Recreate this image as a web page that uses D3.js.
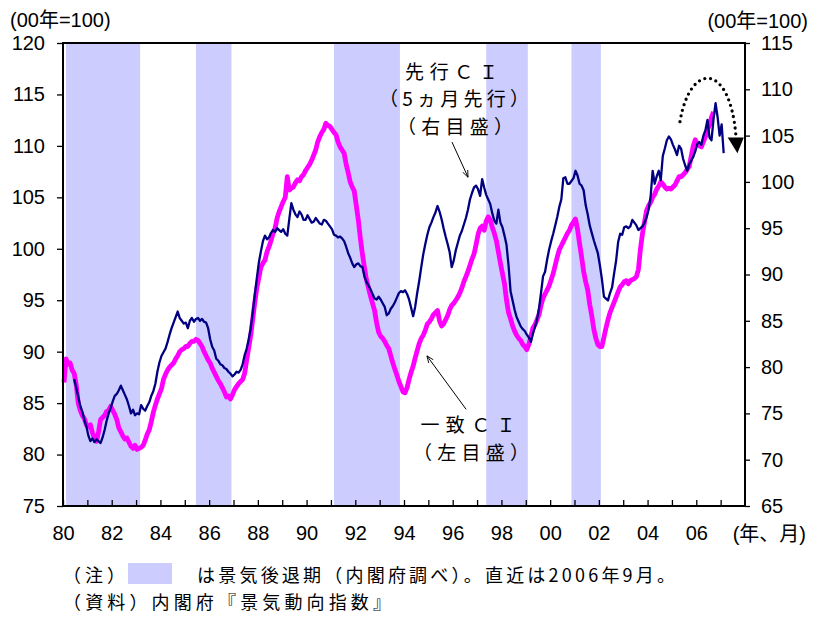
<!DOCTYPE html>
<html><head><meta charset="utf-8">
<script src="https://cdn.jsdelivr.net/npm/d3@7"></script>
<style>body{margin:0;background:#fff}svg{display:block}</style>
</head><body>
<svg id="chart" width="817" height="617"></svg>
<script>
// 一致CI (left axis), monthly 1980/1 – 2006/9
const coincident = [
 87.0,89.3,88.8,88.9,88.2,87.9,86.8,85.0,84.3,83.8,83.5,82.9,
 82.7,82.9,82.1,81.6,81.3,82.2,83.4,83.6,83.8,84.2,84.3,84.7,
 84.3,83.9,83.4,82.6,82.2,81.8,81.5,81.6,81.2,80.8,80.6,80.9,
 80.5,80.6,80.7,80.9,81.4,82.0,82.4,83.2,84.1,84.8,85.4,85.9,
 86.4,87.3,87.8,88.2,88.5,88.7,88.9,89.3,89.6,90.0,90.2,90.3,
 90.5,90.5,90.8,91.0,91.0,91.2,91.1,90.8,90.5,90.0,89.6,89.2,
 88.9,88.4,88.0,87.6,87.2,86.9,86.5,86.1,85.6,85.7,85.4,85.8,
 86.3,86.6,86.9,87.1,87.3,87.9,89.2,90.4,91.6,93.2,94.8,96.2,
 97.2,98.2,98.6,98.9,99.7,100.2,100.8,101.5,102.0,103.0,103.6,104.1,
 104.6,105.0,107.0,105.7,105.9,106.0,106.4,106.7,106.6,107.0,107.2,107.6,
 107.9,108.2,108.6,109.1,109.6,110.4,110.9,111.3,111.6,112.2,112.0,111.9,
 111.6,111.3,111.1,110.4,109.9,109.6,109.3,108.2,107.4,106.5,106.0,105.6,
 104.2,102.8,101.0,99.5,98.2,97.0,96.2,95.4,94.7,94.0,92.8,91.9,
 91.5,91.3,91.0,90.6,90.3,89.6,88.9,88.3,87.7,87.1,86.6,86.1,
 86.0,86.5,87.3,88.0,88.6,89.4,90.1,90.8,91.3,91.6,92.1,92.7,
 92.9,93.2,93.6,93.8,94.0,93.0,92.5,92.7,93.1,93.5,94.1,94.5,
 94.7,95.0,95.3,95.7,96.2,96.8,97.3,97.8,98.4,99.0,99.5,100.4,
 101.4,102.0,102.2,101.8,102.7,103.1,102.8,102.1,101.5,100.8,99.7,98.6,
 97.6,96.6,95.0,93.8,93.2,92.5,92.0,91.6,91.3,91.1,90.7,90.5,
 90.2,90.7,91.5,92.3,92.6,93.1,93.6,94.5,95.2,95.6,96.0,96.4,
 97.0,97.6,98.4,99.2,99.9,100.3,100.7,101.1,101.5,101.8,102.3,102.6,
 102.9,101.9,100.5,99.2,97.8,96.8,96.0,94.6,93.5,92.2,91.3,90.7,
 90.5,90.5,91.4,92.3,93.1,93.8,94.3,94.8,95.3,95.8,96.3,96.5,
 96.8,96.9,96.6,96.9,97.0,97.1,97.3,98.0,100.0,101.5,102.6,103.7,
 104.2,104.5,105.0,105.3,105.8,106.1,106.5,106.3,106.0,105.8,105.9,105.8,
 106.0,106.2,106.6,107.0,107.0,107.2,107.4,107.7,108.0,109.0,110.0,110.6,
 110.2,110.0,109.9,110.4,110.9,111.6,112.0,112.8,113.3
];
// 先行CI (right axis), monthly 1980/1 – 2006/9, drawn 5 months ahead
const leading = [
 78.7,77.8,76.8,75.8,75.2,74.3,73.6,72.6,72.0,72.3,71.9,72.2,
 72.0,71.8,72.4,73.2,74.2,75.0,75.6,76.3,76.9,77.1,77.5,78.0,
 77.5,77.0,76.5,75.8,75.0,75.4,74.8,75.0,74.9,75.9,75.5,75.3,
 75.8,76.2,76.9,77.4,78.2,79.5,80.5,81.2,81.6,82.0,82.7,83.5,
 84.2,84.8,85.4,86.0,85.3,85.0,84.7,84.8,84.2,85.0,85.3,84.9,
 85.2,85.3,85.0,85.2,84.9,84.8,84.2,83.0,82.2,81.8,80.9,80.7,
 80.3,80.2,79.9,79.8,79.5,79.3,79.0,79.2,79.5,79.4,79.7,80.3,
 81.3,82.0,83.0,84.2,85.9,87.8,89.6,91.3,92.5,93.6,94.2,93.8,
 94.0,94.5,94.8,94.6,95.0,94.8,94.6,94.9,94.4,94.2,96.0,97.7,
 97.0,96.5,96.2,96.8,96.5,95.9,95.9,96.4,96.0,95.6,95.7,96.1,
 95.8,95.5,95.4,95.9,95.8,95.5,95.2,94.9,94.3,94.2,94.0,94.1,
 93.9,93.6,93.0,92.3,91.8,91.2,90.8,91.1,91.2,90.9,90.8,89.8,
 89.2,88.8,88.4,87.9,87.4,87.3,87.6,87.3,86.9,86.5,85.6,85.8,
 86.3,86.6,87.0,87.5,88.0,88.2,88.1,88.3,87.9,87.3,86.4,85.5,
 86.5,88.0,89.3,90.8,92.2,93.3,94.3,95.1,95.6,96.2,96.7,97.4,
 96.8,96.0,95.0,94.1,93.3,92.4,90.8,91.5,92.6,93.4,94.2,94.7,
 95.4,96.1,97.0,98.1,98.8,99.4,99.6,99.2,98.5,100.3,99.4,98.6,
 98.1,97.6,96.6,95.8,95.5,97.0,95.6,95.1,94.2,93.2,91.0,88.2,
 87.2,86.2,85.4,84.9,84.4,84.1,83.9,83.5,83.2,82.7,83.6,84.3,
 85.1,86.3,88.0,89.8,90.3,91.6,92.7,93.6,94.4,95.3,96.2,97.3,
 98.1,100.4,100.5,99.8,99.8,100.1,100.4,101.2,100.7,99.8,99.6,99.1,
 97.5,96.5,95.3,94.5,93.7,93.0,92.3,91.0,89.5,87.6,87.4,87.2,
 88.0,88.6,90.1,91.5,93.5,94.4,94.3,95.1,95.2,95.0,95.2,95.9,
 95.6,95.3,94.8,95.0,95.2,95.6,96.2,97.0,98.4,101.2,99.8,100.6,
 101.2,100.2,102.8,103.6,104.5,104.9,104.6,104.0,103.5,102.9,103.9,103.6,
 102.5,101.8,101.2,101.9,102.3,102.7,103.3,104.1,104.3,104.0,105.0,105.6,
 106.7,104.8,104.5,106.8,108.5,107.0,105.0,106.2,103.1
];
const startYear = 1980;
const leadShiftMonths = 5;
// recession periods [peak year, peak month, trough year, trough month]
const recessions = [[1980,2,1983,2],[1985,6,1986,11],[1991,2,1993,10],[1997,5,1999,1],[2000,11,2002,1]];
const xTickYears = d3.range(1980, 2008);
const leftTicks = [75,80,85,90,95,100,105,110,115,120];
const rightTicks = [65,70,75,80,85,90,95,100,105,110,115];

const svg = d3.select('#chart');
const P = {l:63, r:745, t:43, b:506};
const x = d3.scaleLinear().domain([1980, 2008]).range([P.l, P.r]);
const yL = d3.scaleLinear().domain([75, 120]).range([P.b, P.t]);
const yR = d3.scaleLinear().domain([65, 115]).range([P.b, P.t]);
const monthPos = i => startYear + (i + 0.5) / 12;
const NUM = '"Liberation Sans", Arial, "Noto Sans CJK JP", sans-serif';
const JP = '"Noto Sans CJK JP", sans-serif';

// recession shading
svg.append('g').selectAll('rect').data(recessions).join('rect')
  .attr('x', d => x(d[0] + (d[1] - 0.5) / 12))
  .attr('width', d => x(d[2] + d[3] / 12) - x(d[0] + (d[1] - 0.5) / 12))
  .attr('y', P.t).attr('height', P.b - P.t)
  .attr('fill', '#CCCCFF');

// lines
const lineL = d3.line().x((d, i) => x(monthPos(i))).y(d => yL(d));
const lineR = d3.line().x((d, i) => x(monthPos(i + leadShiftMonths))).y(d => yR(d));
svg.append('path').datum(coincident).attr('d', lineL)
  .attr('fill', 'none').attr('stroke', '#FF00FF').attr('stroke-width', 4.8)
  .attr('stroke-linejoin', 'round');
svg.append('path').datum(leading).attr('d', lineR)
  .attr('fill', 'none').attr('stroke', '#000080').attr('stroke-width', 2.3)
  .attr('stroke-linejoin', 'round');

// axes
function styleAxis(g) {
  g.select('.domain').remove();
  g.selectAll('line').attr('stroke', '#000').attr('stroke-width', 1.3);
  g.selectAll('text').attr('font-family', NUM).attr('font-size', 20).attr('fill', '#000');
}
svg.append('g').attr('transform', `translate(${P.l},0)`)
  .call(d3.axisLeft(yL).tickValues(leftTicks).tickSize(6).tickPadding(12))
  .call(styleAxis);
svg.append('g').attr('transform', `translate(${P.r},0)`)
  .call(d3.axisRight(yR).tickValues(rightTicks).tickSize(5).tickPadding(11))
  .call(styleAxis);
svg.append('g').attr('transform', `translate(0,${P.b})`)
  .call(d3.axisBottom(x).tickValues(xTickYears).tickSizeInner(-6).tickSizeOuter(0).tickPadding(20)
    .tickFormat(d => d % 2 === 0 ? String(d % 100).padStart(2, '0') : ''))
  .call(styleAxis);

// frame
svg.append('rect').attr('x', P.l).attr('y', P.t).attr('width', P.r - P.l).attr('height', P.b - P.t)
  .attr('fill', 'none').attr('stroke', '#000').attr('stroke-width', 2);

// units
svg.append('text').attr('x', 10).attr('y', 27).attr('font-family', NUM).attr('font-size', 20).text('(00年=100)');
svg.append('text').attr('x', 808).attr('y', 28).attr('text-anchor', 'end').attr('font-family', NUM).attr('font-size', 20).text('(00年=100)');
svg.append('text').attr('x', 806).attr('y', 541).attr('text-anchor', 'end').attr('font-family', NUM).attr('font-size', 20).text('(年、月)');

// annotations
const ann = svg.append('g').attr('font-family', JP).attr('font-size', 19).attr('fill', '#000').attr('text-anchor', 'middle');
function annText(cx, y, len, s) {
  ann.append('text').attr('x', cx).attr('y', y).attr('textLength', len).attr('lengthAdjust', 'spacing').text(s);
}
annText(451.5, 79, 93, '先行ＣＩ');
annText(454, 106, 150, '（5ヵ月先行）');
annText(455, 134, 116, '（右目盛）');
annText(468, 432, 95, '一致ＣＩ');
annText(471, 460, 116, '（左目盛）');

const defs = svg.append('defs');
defs.append('marker').attr('id', 'ah').attr('viewBox', '0 0 10 10').attr('refX', 10).attr('refY', 5)
  .attr('markerWidth', 7).attr('markerHeight', 7).attr('orient', 'auto')
  .append('path').attr('d', 'M0,1 L10,5 L0,9').attr('fill', 'none').attr('stroke', '#000').attr('stroke-width', 1.2);

svg.append('line').attr('x1', x(1995.97)).attr('y1', yR(104.3)).attr('x2', x(1996.63)).attr('y2', yR(100.5))
  .attr('stroke', '#000').attr('stroke-width', 1).attr('marker-end', 'url(#ah)');
svg.append('line').attr('x1', x(1996.55)).attr('y1', yL(84.4)).attr('x2', x(1994.94)).attr('y2', yL(89.6))
  .attr('stroke', '#000').attr('stroke-width', 1).attr('marker-end', 'url(#ah)');

// dotted curved arrow (downturn)
const p0 = [x(2005.33), yR(106.5)], c1 = [x(2005.74), yR(113.0)], c2 = [x(2007.39), yR(113.0)], p3 = [x(2007.63), yR(104.9)];
svg.append('path').attr('d', `M${p0}C${c1} ${c2} ${p3}`)
  .attr('fill', 'none').attr('stroke', '#000').attr('stroke-width', 3.3)
  .attr('stroke-linecap', 'round').attr('stroke-dasharray', '0 5.8');
const tip = [x(2007.69), yR(103.1)];
svg.append('path')
  .attr('d', `M${x(2007.29)},${yR(104.8)}L${x(2007.95)},${yR(104.8)}L${tip}Z`).attr('fill', '#000');

// notes
const notes = svg.append('g').attr('font-family', JP).attr('font-size', 18).attr('fill', '#000');
notes.append('text').attr('x', 63).attr('y', 582).attr('textLength', 62).attr('lengthAdjust', 'spacing').text('（注）');
notes.append('rect').attr('x', 128).attr('y', 563).attr('width', 44).attr('height', 21).attr('fill', '#CCCCFF');
notes.append('text').attr('x', 197).attr('y', 582).attr('textLength', 478).attr('lengthAdjust', 'spacing')
  .text('は景気後退期（内閣府調べ）。直近は2006年9月。');
notes.append('text').attr('x', 63).attr('y', 609).attr('textLength', 328).attr('lengthAdjust', 'spacing')
  .text('（資料）内閣府『景気動向指数』');
</script>
</body></html>
